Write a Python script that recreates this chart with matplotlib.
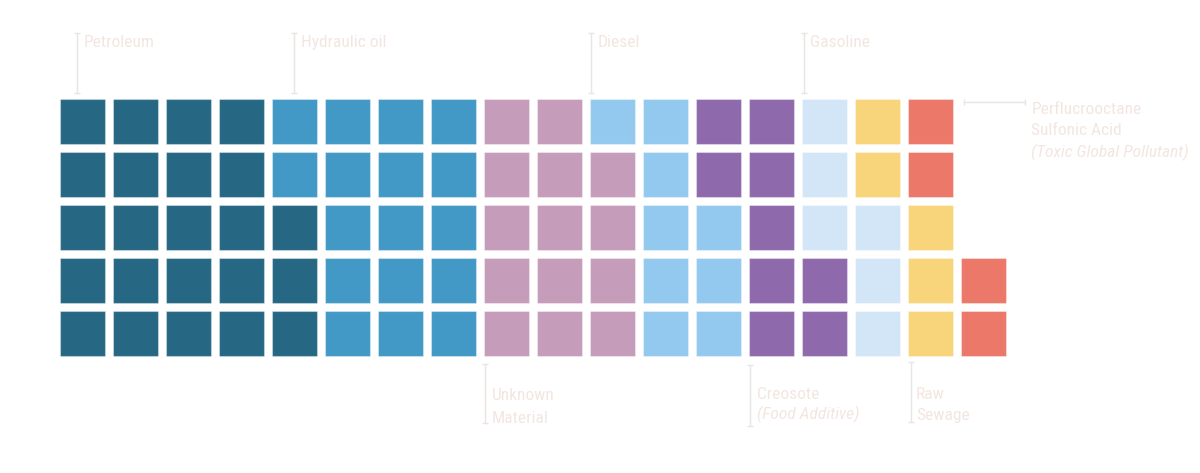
import matplotlib
matplotlib.use("Agg")
import matplotlib.pyplot as plt
from matplotlib import font_manager

# waffle chart: each square is one unit, filled column by column from the bottom
categories = ["Petroleum", "Hydraulic oil", "Unknown Material", "Diesel",
              "Creosote", "Gasoline", "Raw Sewage", "Perflucrooctane Sulfonic Acid"]
counts = [23, 17, 14, 9, 9, 6, 5, 4]
colors = ["#266884", "#4299c5", "#c59dba", "#93c9ee",
          "#8e6aad", "#d3e6f7", "#f8d57a", "#ec786a"]
n_rows = 5

# pick a narrow font if there is one
font = "Roboto"
for cand in ["Roboto Condensed", "Liberation Sans Narrow", "Roboto"]:
    try:
        font_manager.findfont(cand, fallback_to_default=False)
        font = cand
        break
    except Exception:
        pass

text_col = "#f3e6e1"
line_col = "#eae5e4"

fig = plt.figure(figsize=(12, 4.73), dpi=100)
ax = fig.add_axes([0, 0, 1, 1])

cell = 0.85
k = 0
for cat, n, c in zip(categories, counts, colors):
    xs = []
    ys = []
    for i in range(n):
        xs.append((k + i) // n_rows)
        ys.append(n_rows - 1 - (k + i) % n_rows)
    ax.bar(xs, cell, width=cell, bottom=ys, align="edge", color=c,
           edgecolor=(1, 1, 1, 0.35), linewidth=0.8)
    k += n

# pixel layout: first square at x=60, y=99, pitch 53 px
ax.set_xlim(-60 / 53, (1200 - 60) / 53)
ax.set_ylim((473 - 99) / 53, -99 / 53)
ax.axis("off")

def vline(x, y0, y1):
    ax.plot([x, x], [y0, y1], color=line_col, lw=1)
    ax.plot([x, x], [y0, y1], ls="none", marker="_", ms=5, mew=1, color=line_col)

fs = 12.5
# top labels
top = [("Petroleum", 0.32), ("Hydraulic oil", 4.42), ("Diesel", 10.02), ("Gasoline", 14.04)]
for name, x in top:
    vline(x, -1.245, -0.113)
    ax.text(x + 0.12, -1.06, name, color=text_col, fontsize=fs, family=font,
            va="center", ha="left")

# bottom labels
vline(8.02, 5.0, 6.11)
ax.text(8.15, 5.6, "Unknown", color=text_col, fontsize=fs, family=font, va="center")
ax.text(8.15, 6.02, "Material", color=text_col, fontsize=fs, family=font, va="center")

vline(13.02, 5.02, 6.17)
ax.text(13.15, 5.57, "Creosote", color=text_col, fontsize=fs, family=font, va="center")
ax.text(13.15, 5.95, "(Food Additive)", color=text_col, fontsize=fs, family=font,
        style="italic", va="center")

vline(16.06, 4.96, 6.09)
ax.text(16.15, 5.57, "Raw", color=text_col, fontsize=fs, family=font, va="center")
ax.text(16.15, 5.98, "Sewage", color=text_col, fontsize=fs, family=font, va="center")

# right label
ax.plot([17.06, 18.2], [0.06, 0.06], color=line_col, lw=1)
ax.plot([17.06, 18.2], [0.06, 0.06], ls="none", marker="|", ms=5, mew=1, color=line_col)
ax.text(18.33, 0.19, "Perflucrooctane", color=text_col, fontsize=fs, family=font, va="center")
ax.text(18.33, 0.6, "Sulfonic Acid", color=text_col, fontsize=fs, family=font, va="center")
ax.text(18.33, 1.0, "(Toxic Global Pollutant)", color=text_col, fontsize=fs, family=font,
        style="italic", va="center")

fig.savefig("out.png", dpi=100, facecolor="white")
